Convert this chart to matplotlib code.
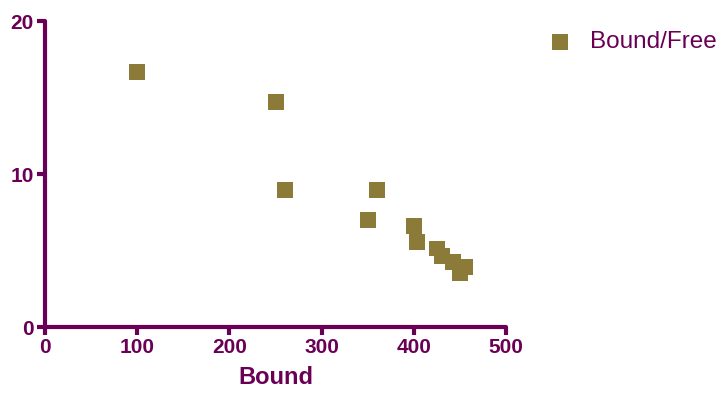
import matplotlib
matplotlib.use("Agg")
import matplotlib.pyplot as plt

bound = [100, 250, 260, 360, 350, 400, 403, 425, 430, 442, 455, 450]
bound_free = [16.7, 14.7, 8.95, 8.95, 7.0, 6.62, 5.55, 5.14, 4.64, 4.27, 3.94, 3.55]
xticks = [0, 100, 200, 300, 400, 500]
yticks = [0, 10, 20]

axis_color = "#6A0055"
marker_color = "#8C7A38"

plt.rcParams['font.family'] = ['Liberation Sans', 'DejaVu Sans']

fig = plt.figure(figsize=(7.23, 3.98), dpi=100)
ax = fig.add_axes([0.0622, 0.178, 0.638, 0.769])
ax.scatter(bound, bound_free, marker='s', s=130, color=marker_color,
           edgecolors='none', label='Bound/Free', clip_on=False, zorder=3)
ax.set_xlim(0, 500)
ax.set_ylim(0, 20)
ax.set_xticks(xticks)
ax.set_yticks(yticks)
for s in ['top', 'right']:
    ax.spines[s].set_visible(False)
for s in ['left', 'bottom']:
    ax.spines[s].set_color(axis_color)
    ax.spines[s].set_linewidth(3)
    ax.spines[s].set_capstyle('round')
ax.tick_params(axis='both', colors=axis_color, width=3, length=6, direction='out',
               labelsize=15, pad=2)
for lab in ax.get_xticklabels() + ax.get_yticklabels():
    lab.set_fontweight('bold')
ax.set_xlabel('Bound', fontsize=17, fontweight='bold', color=axis_color, labelpad=6)

handles, labels = ax.get_legend_handles_labels()
leg = fig.legend(handles, labels, loc='upper left', bbox_to_anchor=(0.741, 0.922),
                 frameon=False, fontsize=17.5, handletextpad=0.23, borderpad=0,
                 borderaxespad=0, markerscale=1.0)
for t in leg.get_texts():
    t.set_color(axis_color)

fig.savefig('out.png', dpi=100)
